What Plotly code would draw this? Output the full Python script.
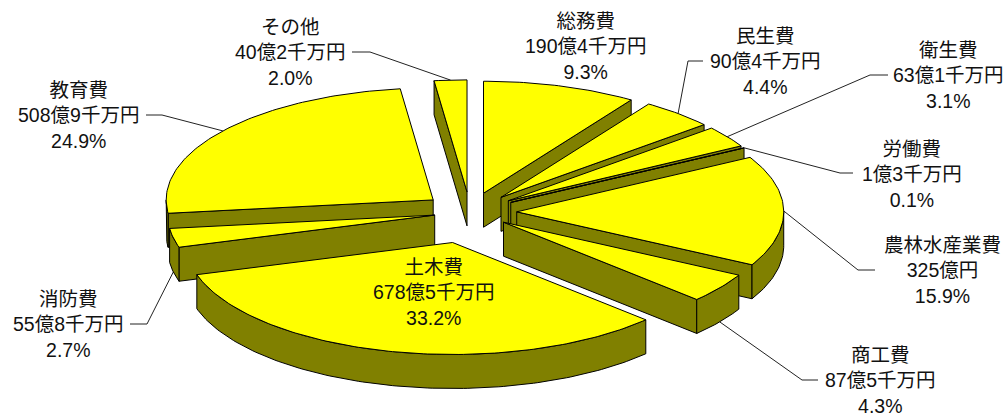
import math
import plotly.graph_objects as go

# 歳出の内訳(億円)
categories = ["総務費", "民生費", "衛生費", "労働費", "農林水産業費",
              "商工費", "土木費", "消防費", "教育費", "その他"]
amounts = [190.4, 90.4, 63.1, 1.3, 325.0, 87.5, 678.5, 55.8, 508.9, 40.2]
amount_labels = ["190億4千万円", "90億4千万円", "63億1千万円", "1億3千万円", "325億円",
                 "87億5千万円", "678億5千万円", "55億8千万円", "508億9千万円", "40億2千万円"]
share_labels = ["9.3%", "4.4%", "3.1%", "0.1%", "15.9%",
                "4.3%", "33.2%", "2.7%", "24.9%", "2.0%"]

# 各扇形の切り出し量(半径に対する割合)
pull = [0.175, 0.175, 0.175, 0.175, 0.175, 0.155, 0.28, 0.135, 0.175, 0.18]

# 擬似3D円グラフの形状(ピクセル座標)
CX, CY, RX, RY, DEPTH = 470.0, 212.0, 267.0, 112.0, 34.0
TOP_COLOR = "#FFFF00"
SIDE_COLOR = "#808000"
FONT = "Liberation Sans, Noto Sans CJK JP"
FONT_SIZE = 19.5

# ラベル中心と引き出し線の折れ点
label_pos = {
    "総務費": (585, 46), "民生費": (765, 61), "衛生費": (948, 75), "労働費": (912, 174),
    "農林水産業費": (942, 270), "商工費": (880, 380), "土木費": (433, 292),
    "消防費": (68, 324), "教育費": (78, 115), "その他": (290, 52),
}
leader_bend = {
    "民生費": [(703, 61), (688, 61)], "衛生費": [(888, 75), (870, 75)],
    "労働費": [(853, 173), (840, 173)], "農林水産業費": [(875, 270), (858, 270)],
    "商工費": [(818, 380), (802, 380)], "消防費": [(130, 324), (147, 324)],
    "教育費": [(146, 115), (162, 115)], "その他": [(352, 52), (370, 52)],
}


def rim(theta, ax, ay):
    return ax + RX * math.sin(theta), ay - RY * math.cos(theta)


def arc(t0, t1, ax, ay, dy=0.0):
    n = max(2, int(abs(t1 - t0) * 60))
    pts = [rim(t0 + (t1 - t0) * i / n, ax, ay) for i in range(n + 1)]
    return [(x, y + dy) for x, y in pts]


def polygon(points, color):
    xs, ys = zip(*points)
    return go.Scatter(x=list(xs) + [xs[0]], y=list(ys) + [ys[0]], mode="lines", fill="toself",
                      fillcolor=color, line=dict(color="black", width=1),
                      hoverinfo="skip", showlegend=False)


total = sum(amounts)
wedges = []
cumulative = 0.0
for name, amount, p in zip(categories, amounts, pull):
    t0 = cumulative / total * 2 * math.pi
    cumulative += amount
    t1 = cumulative / total * 2 * math.pi
    mid = (t0 + t1) / 2
    ax = CX + p * RX * math.sin(mid)
    ay = CY - p * RY * math.cos(mid)
    wedges.append(dict(name=name, t0=t0, t1=t1, mid=mid, ax=ax, ay=ay))

fig = go.Figure()

# 引き出し線は扇形の下に敷き、手前側は側面の下端まで伸ばす
for w in wedges:
    bend = leader_bend.get(w["name"])
    if bend:
        ex, ey = rim(w["mid"], w["ax"], w["ay"])
        if math.cos(w["mid"]) < 0:
            ey += DEPTH
        xs, ys = zip(*(bend + [(ex, ey)]))
        fig.add_trace(go.Scatter(x=xs, y=ys, mode="lines", line=dict(color="#222222", width=1),
                                 hoverinfo="skip", showlegend=False))

# 奥の扇形から順に描く
for w in sorted(wedges, key=lambda v: v["ay"]):
    t0, t1, ax, ay = w["t0"], w["t1"], w["ax"], w["ay"]
    if math.sin(t1) > 1e-6:
        rx_, ry_ = rim(t1, ax, ay)
        fig.add_trace(polygon([(ax, ay), (rx_, ry_), (rx_, ry_ + DEPTH), (ax, ay + DEPTH)], SIDE_COLOR))
    if math.sin(t0) < -1e-6:
        rx_, ry_ = rim(t0, ax, ay)
        fig.add_trace(polygon([(ax, ay), (rx_, ry_), (rx_, ry_ + DEPTH), (ax, ay + DEPTH)], SIDE_COLOR))
    lo, hi = max(t0, math.pi / 2), min(t1, 3 * math.pi / 2)
    if hi > lo:
        fig.add_trace(polygon(arc(lo, hi, ax, ay) + arc(hi, lo, ax, ay, DEPTH), SIDE_COLOR))
    fig.add_trace(polygon([(ax, ay)] + arc(t0, t1, ax, ay), TOP_COLOR))

# ラベル(3行)
for name, amount_text, share_text in zip(categories, amount_labels, share_labels):
    lx, ly = label_pos[name]
    fig.add_annotation(x=lx, y=ly, text=f"{name}<br>{amount_text}<br>{share_text}", showarrow=False,
                       xanchor="center", yanchor="middle", align="center",
                       font=dict(family=FONT, size=FONT_SIZE, color="#111111"))

fig.update_layout(
    width=1008, height=414, margin=dict(l=0, r=0, t=0, b=0),
    paper_bgcolor="white", plot_bgcolor="white", showlegend=False,
    xaxis=dict(range=[0, 1008], visible=False, fixedrange=True),
    yaxis=dict(range=[414, 0], visible=False, fixedrange=True),
)

fig.write_html("out.html")
